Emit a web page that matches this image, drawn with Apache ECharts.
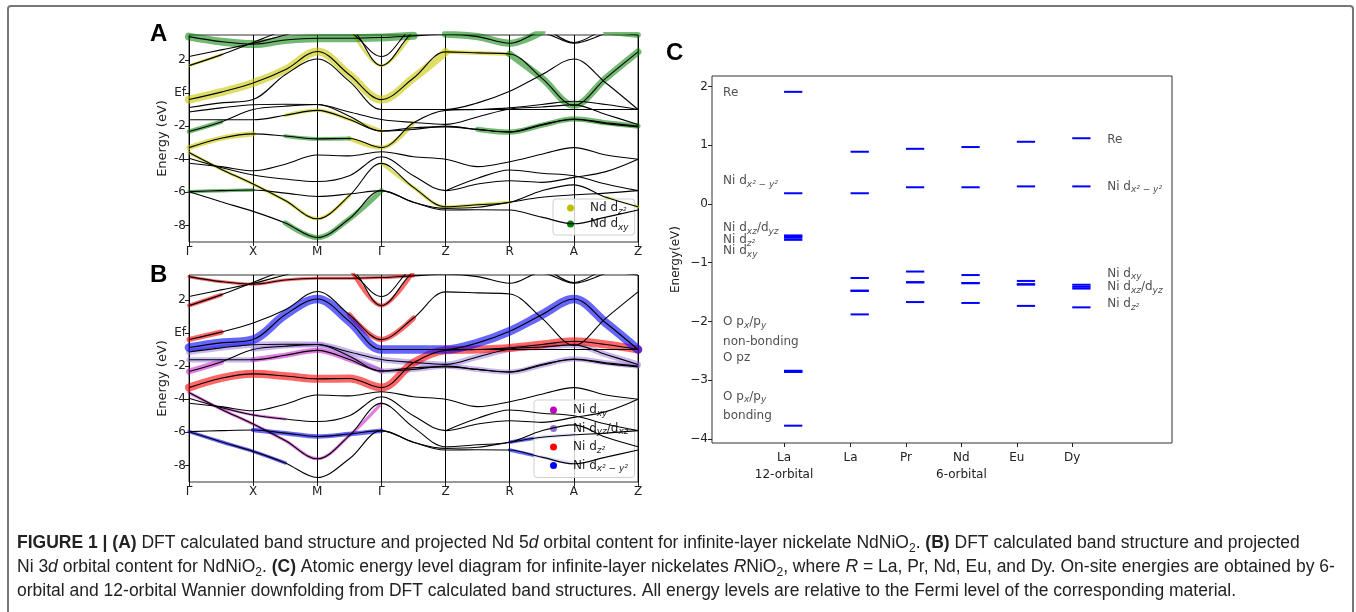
<!DOCTYPE html>
<html>
<head>
<meta charset="utf-8">
<script src="https://cdn.jsdelivr.net/npm/echarts@6/dist/echarts.min.js"></script>
<style>
  html, body { margin: 0; padding: 0; background: #fff; }
  #chart { width: 1356px; height: 612px; }
</style>
</head>
<body>
<div id="chart"></div>
<script>
// ---- k-path through the Brillouin zone ----
const kPathLabels = ['Γ', 'X', 'M', 'Γ', 'Z', 'R', 'A', 'Z'];
const kPath = [0, 0.5, 1, 1.5, 2, 2.5, 3, 3.5, 4, 4.5, 5, 5.5, 6, 6.5, 7];
const energyTicks = [-8, -6, -4, -2, 0, 2];

// ---- band energies of NdNiO2 (eV, relative to Ef) sampled on kPath ----
const bandU1 = [3.4, 3.1, 2.95, 3.2, 3.3, 3.3, 3.35, 3.45, 3.55, 3.4, 3.0, 3.7, 3.8, 3.7, 3.5];
const bandU2 = [2.2, 2.6, 3.0, 3.5, 4.0, 3.7, 2.2, 4.0, 4.5, 4.2, 3.6, 3.6, 3.0, 3.6, 4.2];
const bandU3 = [1.65, 2.3, 3.05, 3.8, 4.3, 4.0, 1.65, 3.7, 4.5, 4.5, 4.5, 4.0, 3.05, 3.9, 4.5];
const bandY  = [-0.4, 0.05, 0.6, 1.4, 2.5, 1.1, -0.4, 0.9, 2.48, 2.42, 2.35, 0.9, -0.75, 0.9, 2.48];
const bandD  = [-0.88, -0.6, -0.4, 1.1, 2.05, 0.7, -1.0, -1.0, -1.0, -0.6, 0.1, 1.1, 2.05, 0.6, -1.0];
const bandF  = [null, null, null, null, null, null, -1.0, -1.0, -1.0, -1.0, -1.0, -1.0, -1.0, -1.0, -1.0];
const bandP3 = [-1.15, -0.9, -0.71, -0.68, -0.7, -1.15, -1.6, -1.78, -1.9, -1.45, -0.97, -0.85, -0.72, -1.3, -1.9];
const bandP1 = [-1.62, -1.62, -1.62, -1.35, -1.05, -1.6, -2.3, -2.2, -2.0, -2.2, -2.37, -1.95, -1.57, -1.8, -2.0];
const bandP2 = [-2.33, -1.75, -1.0, -0.8, -0.7, -1.4, -2.3, -2.1, -2.05, -2.2, -2.35, -1.9, -1.6, -1.85, -2.05];
const bandR  = [-3.3, -2.73, -2.47, -2.6, -2.77, -2.75, -3.3, -1.8, -1.05, -1.0, -0.9, -0.7, -0.5, -0.7, -1.0];
const bandB5 = [-4.24, -4.45, -4.7, -4.3, -3.75, -3.8, -3.55, -3.85, -4.0, -4.45, -4.15, -3.7, -3.3, -3.75, -4.0];
const bandB4 = [-3.94, -4.5, -4.95, -5.2, -5.35, -5.0, -3.85, -5.0, -5.9, -5.5, -5.3, -5.4, -5.1, -4.75, -4.0];
const bandB9 = [null, null, null, null, null, null, null, null, -5.9, -5.15, -4.65, -4.85, -5.0, -5.5, -5.9];
const bandB3 = [-3.6, -4.6, -5.5, -6.5, -7.6, -6.2, -4.25, -5.7, -6.87, -6.75, -6.6, -5.9, -5.55, -6.3, -6.87];
const bandB2 = [-5.96, -5.9, -5.86, -6.05, -6.25, -6.1, -5.9, -6.6, -6.97, -6.9, -6.6, -6.3, -6.15, -6.05, -5.9];
const bandB1 = [-5.96, -6.57, -7.15, -7.85, -8.73, -7.6, -5.9, -6.6, -7.07, -7.05, -7.07, -7.5, -7.9, -7.5, -7.07];

const bands = {
  U1: bandU1, U2: bandU2, U3: bandU3, Y: bandY, D: bandD, F: bandF,
  P3: bandP3, P1: bandP1, P2: bandP2, R: bandR,
  B5: bandB5, B4: bandB4, B9: bandB9, B3: bandB3, B2: bandB2, B1: bandB1
};

// ---- orbital projections: [orbital, band, k from, k to, weight] ----
const ndProjection = [
  ['Nd dz2', 'Y', 0, 4, 1.0],
  ['Nd dz2', 'Y', 4, 5, 0.4],
  ['Nd dz2', 'R', 0, 1, 0.6],
  ['Nd dz2', 'R', 2.5, 3.5, 0.45],
  ['Nd dz2', 'P1', 1.5, 3, 0.35],
  ['Nd dz2', 'B3', 0, 2.5, 0.3],
  ['Nd dz2', 'B3', 3, 5, 0.3],
  ['Nd dz2', 'B3', 6.5, 7, 0.3],
  ['Nd dz2', 'U3', 0, 0.5, 0.25],
  ['Nd dz2', 'U3', 2.5, 3.5, 0.25],
  ['Nd dxy', 'U1', 0, 3.5, 1.0],
  ['Nd dxy', 'U1', 4, 5.5, 0.9],
  ['Nd dxy', 'U1', 6.5, 7, 0.7],
  ['Nd dxy', 'Y', 5, 7, 0.85],
  ['Nd dxy', 'P1', 4.5, 7, 0.6],
  ['Nd dxy', 'P2', 0, 0.5, 0.5],
  ['Nd dxy', 'R', 1.5, 2.5, 0.4],
  ['Nd dxy', 'B1', 1.5, 3, 0.6],
  ['Nd dxy', 'B2', 0, 1, 0.35]
];
const niProjection = [
  ['Ni dxy', 'B3', 0, 3, 0.3],
  ['Ni dxy', 'B4', 0.5, 1.5, 0.25],
  ['Ni dxy', 'P2', 0, 0.5, 0.7],
  ['Ni dxy', 'P1', 1, 3, 0.6],
  ['Ni dyz/dxz', 'P3', 0, 7, 0.7],
  ['Ni dyz/dxz', 'P1', 0, 1, 0.6],
  ['Ni dyz/dxz', 'P1', 3, 7, 0.6],
  ['Ni dyz/dxz', 'P2', 1, 3, 0.5],
  ['Ni dz2', 'R', 0, 7, 1.0],
  ['Ni dz2', 'Y', 0, 0.5, 0.6],
  ['Ni dz2', 'Y', 2.5, 3.5, 0.6],
  ['Ni dz2', 'U3', 0, 0.5, 0.4],
  ['Ni dz2', 'U3', 2.5, 3.5, 0.4],
  ['Ni dz2', 'U1', 0, 3.5, 0.3],
  ['Ni dx2-y2', 'B2', 1, 3, 0.5],
  ['Ni dx2-y2', 'B1', 0, 1.5, 0.35],
  ['Ni dx2-y2', 'B1', 5, 6, 0.35],
  ['Ni dx2-y2', 'B2', 5, 6, 0.35],
  ['Ni dx2-y2', 'D', 0, 7, 1.1]
];

// ---- on-site energies (eV) for the level diagram ----
const compounds = ['La\n12-orbital', 'La', 'Pr', 'Nd\n6-orbital', 'Eu', 'Dy'];
const levelsLa12 = [1.91, 0.183, -0.535, -0.555, -0.575, -0.61, -2.84, -2.85, -2.86, -3.775];
const levelsLa6 = [0.89, 0.183, -1.26, -1.475, -1.48, -1.88];
const levelsPr = [0.94, 0.285, -1.15, -1.33, -1.335, -1.67];
const levelsNd = [0.97, 0.285, -1.21, -1.345, -1.35, -1.685];
const levelsEu = [1.06, 0.30, -1.31, -1.365, -1.372, -1.735];
const levelsDy = [1.12, 0.30, -1.375, -1.41, -1.44, -1.76];
const levelTicks = [-4, -3, -2, -1, 0, 1, 2];

// orbital annotations: [label, energy]
const leftNotes = [
  ['Re', 1.89], ['Ni dx2-y2', 0.39], ['Ni dxz/dyz', -0.405], ['Ni dz2', -0.61], ['Ni dxy', -0.80],
  ['O px/py', -2.005], ['non-bonding', -2.35], ['O pz', -2.62], ['O px/py', -3.28], ['bonding', -3.61]
];
const rightNotes = [
  ['Re', 1.095], ['Ni dx2-y2', 0.30], ['Ni dxy', -1.186], ['Ni dxz/dyz', -1.41], ['Ni dz2', -1.707]
];

// ---- layout / style ----
const columnX = [0, 1.2, 2.2, 3.2, 4.2, 5.2];
const levelLength = 0.33;
const noteXLeft = -1.1;
const noteXRight = 5.83;
const orbitalColor = {
  'Nd dz2': '#bfbf00', 'Nd dxy': '#008000',
  'Ni dxy': '#bf00bf', 'Ni dyz/dxz': '#9370db', 'Ni dz2': '#ff0000', 'Ni dx2-y2': '#0000ff'
};
const orbitalFill = {
  'Nd dz2': 'rgba(200,200,0,0.6)', 'Nd dxy': 'rgba(0,128,0,0.55)',
  'Ni dxy': 'rgba(191,0,191,0.5)', 'Ni dyz/dxz': 'rgba(147,112,219,0.5)',
  'Ni dz2': 'rgba(255,0,0,0.6)', 'Ni dx2-y2': 'rgba(0,0,255,0.6)'
};
const richLabel = {
  'Nd dz2': '{t|Nd d}{s|z²}',
  'Nd dxy': '{t|Nd d}{s|xy}',
  'Ni dxy': '{t|Ni d}{s|xy}',
  'Ni dyz/dxz': '{t|Ni d}{s|yz}{t|/d}{s|xz}',
  'Ni dxz/dyz': '{t|Ni d}{s|xz}{t|/d}{s|yz}',
  'Ni dz2': '{t|Ni d}{s|z²}',
  'Ni dx2-y2': '{t|Ni d}{s|x² − y²}',
  'O px/py': '{t|O p}{s|x}{t|/p}{s|y}',
  'O pz': '{t|O pz}',
  'Re': '{t|Re}',
  'non-bonding': '{t|non-bonding}',
  'bonding': '{t|bonding}'
};
const FONT = 'DejaVu Sans';
const richStyles = {
  t: { fontFamily: FONT, fontSize: 12, color: '#222', lineHeight: 16 },
  s: { fontFamily: FONT, fontSize: 9, fontStyle: 'italic', color: '#222', lineHeight: 10, verticalAlign: 'bottom' }
};

function idx(k) { return Math.round(k * 2); }

function bandSeries(g) {
  return Object.keys(bands).map(name => ({
    type: 'line', name: 'band ' + name, xAxisIndex: g, yAxisIndex: g,
    data: kPath.map((k, i) => [k, bands[name][i]]),
    smooth: 0.35, symbol: 'none', silent: true, z: 5,
    lineStyle: { color: '#000', width: 1.1 }
  }));
}

function projectionSeries(g, list) {
  return list.map(([orb, band, k0, k1, w]) => ({
    type: 'line', name: orb, xAxisIndex: g, yAxisIndex: g,
    data: kPath.slice(idx(k0), idx(k1) + 1).map((k, i) => [k, bands[band][idx(k0) + i]]),
    smooth: 0.35, symbol: 'none', silent: true, z: 3,
    itemStyle: { color: orbitalColor[orb] },
    lineStyle: { color: orbitalFill[orb], width: 1 + w * 7, cap: 'round', join: 'round' }
  }));
}

function bandAxes(g) {
  return {
    x: {
      type: 'value', gridIndex: g, min: 0, max: 7, interval: 1,
      axisLine: { show: false, onZero: false },
      axisTick: { length: 4, lineStyle: { color: '#222' } },
      axisLabel: { formatter: v => kPathLabels[v], fontFamily: FONT, fontSize: 12, color: '#222', margin: 4 },
      splitLine: { show: true, lineStyle: { color: '#000', width: 1 } }
    },
    y: {
      type: 'value', gridIndex: g, min: -9, max: 3.5,
      name: 'Energy (eV)', nameLocation: 'middle', nameGap: 20,
      nameTextStyle: { fontFamily: FONT, fontSize: 13, color: '#222' },
      axisLine: { show: false, onZero: false },
      axisTick: { customValues: energyTicks, length: 4, lineStyle: { color: '#222' } },
      axisLabel: { customValues: energyTicks, formatter: v => (v === 0 ? 'Ef' : String(v)),
        fontFamily: FONT, fontSize: 12, color: '#222', margin: 3 },
      splitLine: { show: false }
    }
  };
}

const axA = bandAxes(0), axB = bandAxes(1);

const levelColumns = [levelsLa12, levelsLa6, levelsPr, levelsNd, levelsEu, levelsDy];
const levelData = [];
levelColumns.forEach((col, c) => col.forEach(e => levelData.push([columnX[c], e])));

function noteData(list, x) {
  return list.map(([name, e]) => ({ value: [x, e], label: { formatter: richLabel[name] } }));
}

const legendBase = {
  orient: 'vertical', icon: 'circle', itemHeight: 7, selectedMode: false,
  backgroundColor: 'rgba(255,255,255,0.8)', borderColor: '#d0d0d0', borderWidth: 1, borderRadius: 3,
  formatter: n => richLabel[n],
  textStyle: { fontFamily: FONT, fontSize: 12, color: '#222', rich: richStyles }
};

const option = {
  animation: false,
  backgroundColor: '#fff',
  grid: [
    { left: 189, top: 35, width: 449, height: 207, show: true, borderColor: '#333', borderWidth: 1, backgroundColor: 'transparent' },
    { left: 189, top: 275, width: 449, height: 207, show: true, borderColor: '#333', borderWidth: 1, backgroundColor: 'transparent' },
    { left: 712, top: 76, width: 460, height: 367, show: true, borderColor: '#333', borderWidth: 1, backgroundColor: 'transparent' }
  ],
  xAxis: [axA.x, axB.x, {
    type: 'value', gridIndex: 2, min: -1.3, max: 7.0,
    axisLine: { show: false, onZero: false },
    axisTick: { customValues: columnX, length: 4, lineStyle: { color: '#222' } },
    axisLabel: { customValues: columnX,
      formatter: v => compounds[columnX.findIndex(x => Math.abs(x - v) < 1e-6)] || '',
      fontFamily: FONT, fontSize: 12, color: '#222', lineHeight: 17, margin: 6 },
    splitLine: { show: false }
  }],
  yAxis: [axA.y, axB.y, {
    type: 'value', gridIndex: 2, min: -4.07, max: 2.18,
    name: 'Energy(eV)', nameLocation: 'middle', nameGap: 30,
    nameTextStyle: { fontFamily: FONT, fontSize: 12, color: '#222' },
    axisLine: { show: false, onZero: false },
    axisTick: { customValues: levelTicks, length: 4, lineStyle: { color: '#222' } },
    axisLabel: { customValues: levelTicks, formatter: v => (v < 0 ? '\u2212' + Math.abs(v) : String(v)),
      fontFamily: FONT, fontSize: 12, color: '#222', margin: 4 },
    splitLine: { show: false }
  }],
  legend: [
    Object.assign({}, legendBase, {
      left: 553, top: 199, itemWidth: 29, itemGap: 2, padding: [3, 6, 3, 14],
      data: ['Nd dz2', 'Nd dxy'].map(n => ({ name: n, itemStyle: { color: orbitalColor[n] } }))
    }),
    Object.assign({}, legendBase, {
      left: 534, top: 400, itemWidth: 29, itemGap: 4.5, padding: [4, 6, 4, 16],
      data: ['Ni dxy', 'Ni dyz/dxz', 'Ni dz2', 'Ni dx2-y2'].map(n => ({ name: n, itemStyle: { color: orbitalColor[n] } }))
    })
  ],
  series: [
    ...projectionSeries(0, ndProjection),
    ...bandSeries(0),
    ...projectionSeries(1, niProjection),
    ...bandSeries(1),
    {
      type: 'custom', name: 'levels', xAxisIndex: 2, yAxisIndex: 2, silent: true,
      data: levelData, encode: { x: 0, y: 1 },
      renderItem: (params, api) => {
        const p1 = api.coord([api.value(0), api.value(1)]);
        const p2 = api.coord([api.value(0) + levelLength, api.value(1)]);
        return { type: 'line', shape: { x1: p1[0], y1: p1[1], x2: p2[0], y2: p2[1] },
          style: { stroke: '#0000ff', lineWidth: 2 } };
      }
    },
    {
      type: 'scatter', name: 'notes', xAxisIndex: 2, yAxisIndex: 2, silent: true,
      symbolSize: 0, data: noteData(leftNotes, noteXLeft).concat(noteData(rightNotes, noteXRight)),
      label: { show: true, position: 'right', distance: 0, rich: richStyles }
    }
  ],
  graphic: [
    { type: 'rect', silent: true, shape: { x: 8, y: 6, width: 1345, height: 640, r: 3 },
      style: { fill: 'none', stroke: '#777', lineWidth: 2 } },
    { type: 'text', left: 150, top: 22, style: { text: 'A', font: 'bold 24px "Liberation Sans"', fill: '#000' } },
    { type: 'text', left: 150, top: 263, style: { text: 'B', font: 'bold 24px "Liberation Sans"', fill: '#000' } },
    { type: 'text', left: 666, top: 41, style: { text: 'C', font: 'bold 24px "Liberation Sans"', fill: '#000' } },
    {
      type: 'text', left: 17, top: 531,
      style: {
        text: '{b|FIGURE 1 | (A)} DFT calculated band structure and projected Nd 5{i|d} orbital content for infinite-layer nickelate NdNiO{sub|2}. {b|(B)} DFT calculated band structure and projected\n' +
              'Ni 3{i|d} orbital content for NdNiO{sub|2}. {b|(C)} Atomic energy level diagram for infinite-layer nickelates {i|R}NiO{sub|2}, where {i|R} = La, Pr, Nd, Eu, and Dy. On-site energies are obtained by 6-\n' +
              'orbital and 12-orbital Wannier downfolding from DFT calculated band structures. All energy levels are relative to the Fermi level of the corresponding material.',
        font: '17.5px "Liberation Sans"', fill: '#222', lineHeight: 24,
        rich: {
          b: { fontFamily: 'Liberation Sans', fontSize: 17.5, fontWeight: 'bold', color: '#222', lineHeight: 24 },
          i: { fontFamily: 'Liberation Sans', fontSize: 17.5, fontStyle: 'italic', color: '#222', lineHeight: 24 },
          sub: { fontFamily: 'Liberation Sans', fontSize: 12, color: '#222', lineHeight: 18, verticalAlign: 'bottom' }
        }
      }
    }
  ]
};

const chart = echarts.init(document.getElementById('chart'), null, { renderer: 'canvas' });
chart.setOption(option);
</script>
</body>
</html>
